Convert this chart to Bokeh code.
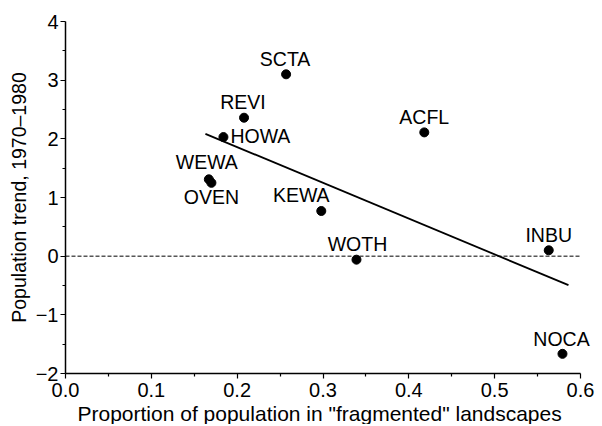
from bokeh.plotting import figure
from bokeh.models import (ColumnDataSource, FixedTicker, CustomJSTickFormatter,
                          PrintfTickFormatter, Range1d, LabelSet, Title)
from bokeh.core.properties import value
from bokeh.embed import file_html
from bokeh.resources import INLINE

# ---- data ----
species = ["SCTA", "REVI", "HOWA", "WEWA", "OVEN", "ACFL", "KEWA", "WOTH", "INBU", "NOCA"]
proportion = [0.257, 0.208, 0.184, 0.167, 0.170, 0.418, 0.298, 0.339, 0.563, 0.579]
trend = [3.10, 2.36, 2.03, 1.31, 1.25, 2.11, 0.77, -0.06, 0.10, -1.665]

fit_x = [0.163, 0.586]
fit_y = [2.085, -0.494]

zero_level = [0, 0]

x_ticks = [0.0, 0.1, 0.2, 0.3, 0.4, 0.5, 0.6]
x_minor = [0.05, 0.15, 0.25, 0.35, 0.45, 0.55]
y_ticks = [-2, -1, 0, 1, 2, 3, 4]
y_minor = [-1.5, -0.5, 0.5, 1.5, 2.5, 3.5]

x_title = 'Proportion of population in "fragmented" landscapes'
y_title = "Population trend, 1970\u20131980"

# ---- label placement (screen px offsets, positive = up; alignment) ----
placement = {
    "SCTA": (-1, 8, "center"),
    "REVI": (-1, 9, "center"),
    "HOWA": (7, -6, "left"),
    "WEWA": (-2, 10, "center"),
    "OVEN": (0, -21, "center"),
    "ACFL": (0, 8, "center"),
    "KEWA": (-20, 9, "center"),
    "WOTH": (1, 9, "center"),
    "INBU": (0, 8, "center"),
    "NOCA": (-1, 8, "center"),
}

FONT = "Liberation Sans"

# frame geometry: axis runs 0..0.6 over 515 px; extra room on the right so
# the NOCA label is not clipped by the plotting frame
LEFT, AXIS_PX, WIDTH, RIGHT = 65, 515, 598, 2
x_lo, x_hi = x_ticks[0], x_ticks[-1]
extra = (WIDTH - RIGHT - LEFT - AXIS_PX) * (x_hi - x_lo) / AXIS_PX

src = ColumnDataSource(dict(
    x=proportion, y=trend, name=species,
    dx=[placement[s][0] for s in species],
    dy=[placement[s][1] for s in species],
    align=[placement[s][2] for s in species],
))

p = figure(width=WIDTH, height=424, output_backend="svg", toolbar_location=None,
           x_range=Range1d(x_lo, x_hi + extra), y_range=Range1d(y_ticks[0], y_ticks[-1]),
           min_border_left=LEFT, min_border_right=RIGHT, min_border_top=21,
           min_border_bottom=51)
p.outline_line_color = None
p.grid.visible = False
p.background_fill_color = "white"

# zero reference line (across the axis extent)
p.line([x_lo, x_hi], zero_level, line_color="black", line_width=1, line_dash="4 2")

# regression line
p.line(fit_x, fit_y, line_color="black", line_width=1.8)

# points
p.scatter("x", "y", source=src, size=9, color="black")

# labels
p.add_layout(LabelSet(x="x", y="y", text="name", source=src,
                      x_offset="dx", y_offset="dy",
                      text_align="align", text_baseline="alphabetic",
                      text_font_size="19.5px", text_color="black",
                      text_font=value(FONT)))

for ax in (p.xaxis[0], p.yaxis[0]):
    ax.axis_line_color = "black"
    ax.axis_line_width = 1.5
    ax.major_tick_line_color = "black"
    ax.minor_tick_line_color = "black"
    ax.major_tick_line_width = 1.2
    ax.minor_tick_line_width = 1.2
    ax.major_tick_in = 0
    ax.major_tick_out = 5
    ax.minor_tick_in = 0
    ax.minor_tick_out = 3
    ax.major_label_text_font = FONT
    ax.major_label_text_font_size = "20px"
    ax.major_label_text_color = "black"
    ax.axis_label_text_font = FONT
    ax.axis_label_text_font_style = "normal"
    ax.axis_label_text_color = "black"

p.xaxis.bounds = (x_lo, x_hi)
p.xaxis.major_label_standoff = 4
p.yaxis.major_label_standoff = 2
p.xaxis.ticker = FixedTicker(ticks=x_ticks, minor_ticks=x_minor)
p.yaxis.ticker = FixedTicker(ticks=y_ticks, minor_ticks=y_minor)
p.xaxis.formatter = PrintfTickFormatter(format="%.1f")
p.yaxis.formatter = CustomJSTickFormatter(
    code="return tick < 0 ? '\\u2212' + Math.abs(tick).toFixed(0) : tick.toFixed(0);")

# x title centred under the 0..0.6 axis extent (not the widened frame)
p.add_layout(Title(text=x_title, align="left", offset=12, standoff=0,
                   text_font=FONT, text_font_size="21px", text_font_style="normal",
                   text_color="black"), "below")

p.yaxis.axis_label = y_title
p.yaxis.axis_label_text_font_size = "19.5px"
p.yaxis.axis_label_standoff = 3

open("out.html", "w").write(file_html(p, INLINE))
